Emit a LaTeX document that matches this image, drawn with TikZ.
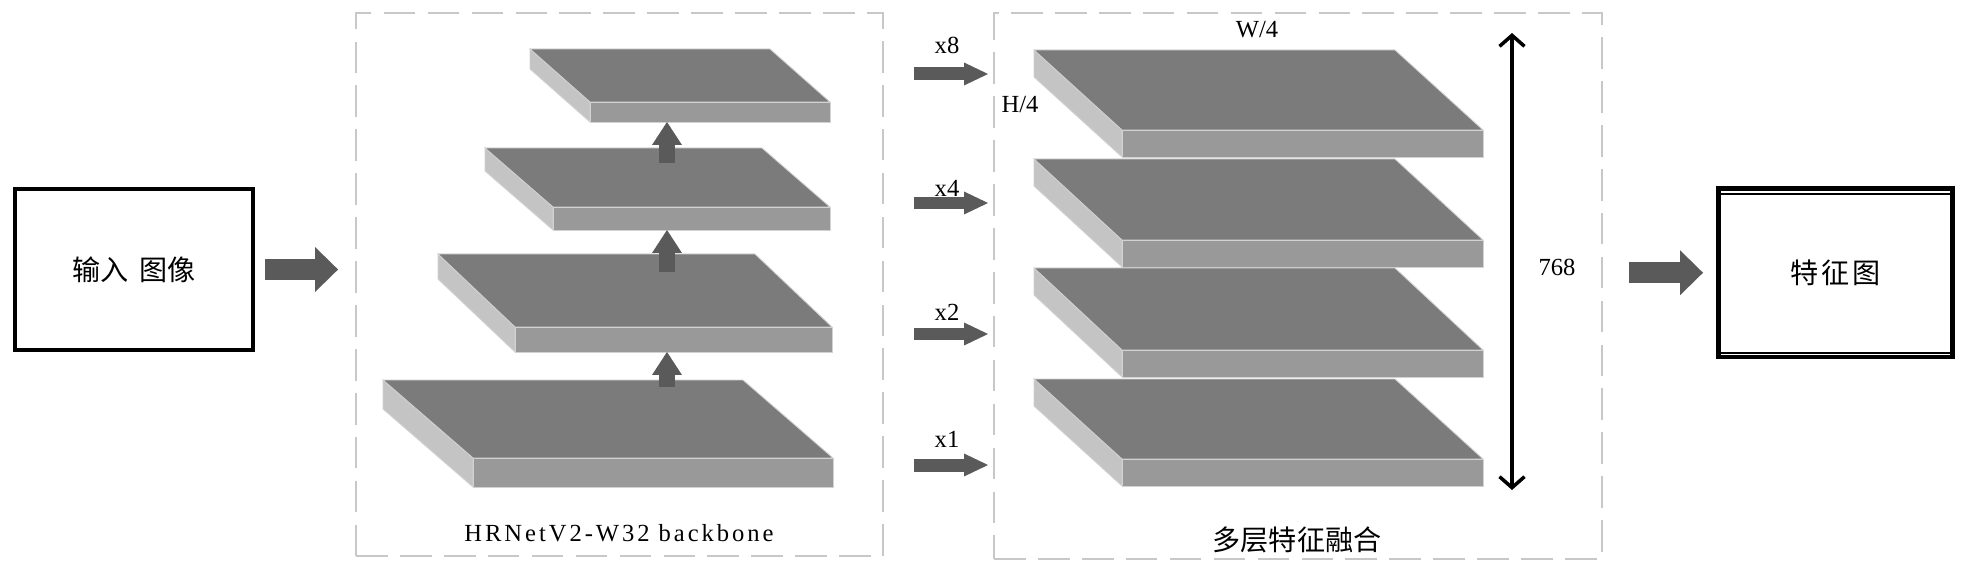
\documentclass[tikz,border=0pt]{standalone}
\usepackage{fontspec}
\setmainfont{Liberation Serif}
\newfontfamily\cjk{Noto Sans CJK SC}
\usetikzlibrary{arrows.meta,positioning}

\definecolor{slabTop}{HTML}{7B7B7B}
\definecolor{slabFront}{HTML}{999999}
\definecolor{slabSide}{HTML}{C4C4C4}
\definecolor{slabEdge}{HTML}{D2D2D2}
\definecolor{arrowGray}{HTML}{5A5A5A}
\definecolor{dashGray}{HTML}{C8C8C8}

\begin{document}
\begin{tikzpicture}[
            x=0.02cm, y=-0.02cm,
            block/.style={
                    draw=black,
                    line width=2.2pt,
                    rectangle,
                    outer sep=0pt,
                    align=center,
                    font=\cjk\fontsize{16}{19}\selectfont
                },
            stage/.style={
                    draw=dashGray,
                    line width=1.4pt,
                    dash pattern=on 18pt off 7pt,
                    rectangle,
                    outer sep=0pt
                },
            topface/.style={fill=slabTop, draw=slabEdge, line width=0.5pt},
            frontface/.style={fill=slabFront, draw=slabEdge, line width=0.5pt},
            sideface/.style={fill=slabSide, draw=slabEdge, line width=0.5pt},
            fatarrow/.style={
            -{Triangle[length=0.46cm, width=0.9cm, line width=0pt]},
            draw=arrowGray,
            line width=0.42cm
            },
            uparrow/.style={
            -{Triangle[length=0.46cm, width=0.6cm, line width=0pt]},
            draw=arrowGray,
            line width=0.32cm
            },
            sidearrow/.style={
            -{Triangle[length=0.48cm, width=0.46cm, line width=0pt]},
            draw=arrowGray,
            line width=0.26cm
            },
            dimarrow/.style={
            {Straight Barb[length=0.22cm, width=0.5cm]}-{Straight Barb[length=0.22cm, width=0.5cm]},
            line width=2pt
            },
            numtext/.style={
                    font=\fontsize{14}{16}\selectfont,
                    inner sep=1pt
                },
            cntext/.style={
                    font=\cjk\fontsize{16}{19}\selectfont,
                    inner sep=1pt
                }
            ]

            \useasboundingbox (0,0) rectangle (1968,574);

            % Imagen de entrada
            \node[block, minimum width=4.76cm, minimum height=3.21cm]
            (inputImg) at (134,269.5) {输入\hspace{0.4em}图像};

            % Bloques punteados
            \node[stage, minimum width=10.54cm, minimum height=10.86cm]
            (backbone) at (619.5,284.5) {};
            \node[stage, minimum width=12.16cm, minimum height=10.92cm]
            (fusion) at (1298,286) {};

            \draw[fatarrow, shorten <=0.24cm, shorten >=0.36cm]
            (inputImg.east) -- (inputImg.east -| backbone.west);

            % Capas del backbone
            \filldraw[sideface] (530,49) -- (590,102) -- (590,122) -- (530,69) -- cycle;
            \filldraw[topface] (530,49) -- (770,49) -- (830,102) -- (590,102) -- cycle;
            \filldraw[frontface] (590,102) rectangle (830,122);

            \filldraw[sideface] (485,148) -- (553,207) -- (553,230) -- (485,171) -- cycle;
            \filldraw[topface] (485,148) -- (762,148) -- (830,207) -- (553,207) -- cycle;
            \filldraw[frontface] (553,207) rectangle (830,230);

            \filldraw[sideface] (438,254) -- (515,327) -- (515,352) -- (438,279) -- cycle;
            \filldraw[topface] (438,254) -- (755,254) -- (832,327) -- (515,327) -- cycle;
            \filldraw[frontface] (515,327) rectangle (832,352);

            \filldraw[sideface] (383,380) -- (473,458) -- (473,487) -- (383,409) -- cycle;
            \filldraw[topface] (383,380) -- (743,380) -- (833,458) -- (473,458) -- cycle;
            \filldraw[frontface] (473,458) rectangle (833,487);

            \coordinate (layerOneBottom) at (667,122);
            \coordinate (layerTwoTop) at (667,163);
            \coordinate (layerTwoBottom) at (667,230);
            \coordinate (layerThreeTop) at (667,272);
            \coordinate (layerThreeBottom) at (667,352);
            \coordinate (layerFourTop) at (667,387);
            \draw[uparrow] (layerTwoTop) -- (layerOneBottom);
            \draw[uparrow] (layerThreeTop) -- (layerTwoBottom);
            \draw[uparrow] (layerFourTop) -- (layerThreeBottom);

            \node[numtext, font=\fontsize{14}{16}\selectfont\addfontfeature{LetterSpace=12}]
            (backboneLabel) at (619,533) {HRNetV2-W32 backbone};

            % Muestreo hacia la fusion
            \coordinate (inEight) at (988,74);
            \coordinate (inFour) at (988,203);
            \coordinate (inTwo) at (988,334);
            \coordinate (inOne) at (988,465);
            \draw[sidearrow, shorten <=0.62cm] (backbone.east |- inEight) -- (inEight);
            \draw[sidearrow, shorten <=0.62cm] (backbone.east |- inFour) -- (inFour);
            \draw[sidearrow, shorten <=0.62cm] (backbone.east |- inTwo) -- (inTwo);
            \draw[sidearrow, shorten <=0.62cm] (backbone.east |- inOne) -- (inOne);
            \node[numtext] (upEight) at (947,45) {x8};
            \node[numtext] (upFour) at (947,188) {x4};
            \node[numtext] (upTwo) at (947,312) {x2};
            \node[numtext] (upOne) at (947,439) {x1};

            % Capas fusionadas
            \filldraw[sideface] (1034,50) -- (1122,130) -- (1122,157) -- (1034,77) -- cycle;
            \filldraw[topface] (1034,50) -- (1395,50) -- (1483,130) -- (1122,130) -- cycle;
            \filldraw[frontface] (1122,130) rectangle (1483,157);

            \filldraw[sideface] (1034,159) -- (1122,240) -- (1122,267) -- (1034,186) -- cycle;
            \filldraw[topface] (1034,159) -- (1395,159) -- (1483,240) -- (1122,240) -- cycle;
            \filldraw[frontface] (1122,240) rectangle (1483,267);

            \filldraw[sideface] (1034,268) -- (1122,350) -- (1122,377) -- (1034,295) -- cycle;
            \filldraw[topface] (1034,268) -- (1395,268) -- (1483,350) -- (1122,350) -- cycle;
            \filldraw[frontface] (1122,350) rectangle (1483,377);

            \filldraw[sideface] (1034,379) -- (1122,459) -- (1122,486) -- (1034,406) -- cycle;
            \filldraw[topface] (1034,379) -- (1395,379) -- (1483,459) -- (1122,459) -- cycle;
            \filldraw[frontface] (1122,459) rectangle (1483,486);

            \node[numtext] (widthLabel) at (1257,30) {W/4};
            \node[numtext] (heightLabel) at (1020,105) {H/4};

            \coordinate (dimTop) at (1512,33);
            \coordinate (dimBottom) at (1512,490);
            \draw[dimarrow] (dimTop) -- (dimBottom);
            \node[numtext] (channelLabel) at (1557,267) {768};

            \node[cntext] (fusionLabel) at (1297,540) {多层特征融合};

            % Mapa de caracteristicas
            \node[block, line width=2.6pt, minimum width=4.68cm, minimum height=3.37cm]
            (featureMap) at (1835.5,272.75) {特\hspace{0.1em}征\hspace{0.1em}图};
            \draw[line width=1.1pt] ([yshift=-0.11cm]featureMap.north west)
            -- ([yshift=-0.11cm]featureMap.north east);
            \draw[line width=1.1pt] ([yshift=0.08cm]featureMap.south west)
            -- ([yshift=0.08cm]featureMap.south east);

            \draw[fatarrow, shorten <=0.54cm, shorten >=0.31cm]
            (fusion.east |- featureMap.west) -- (featureMap.west);

        \end{tikzpicture}
\end{document}
